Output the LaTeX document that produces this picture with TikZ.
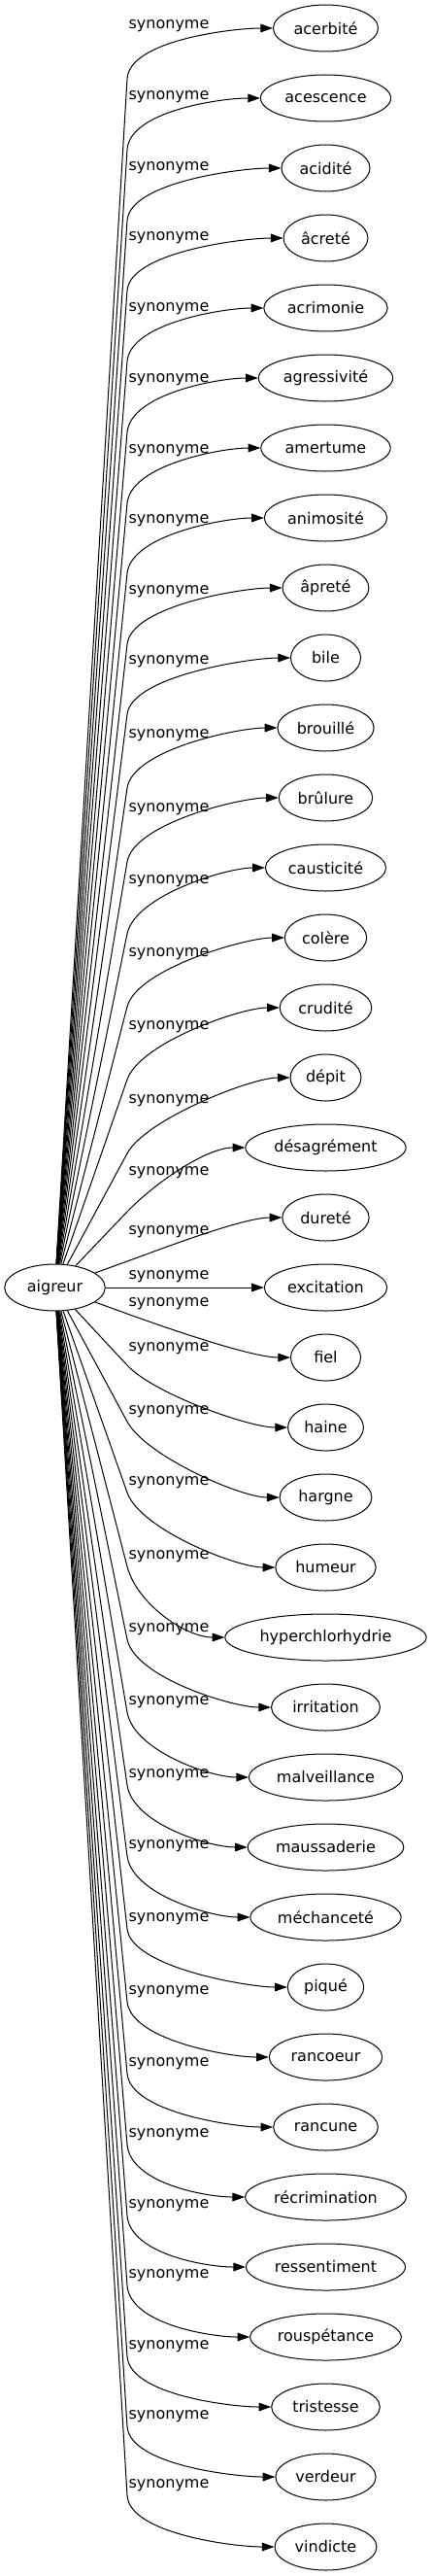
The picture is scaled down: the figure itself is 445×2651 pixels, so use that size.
\documentclass[tikz,border=0pt]{standalone}
\usepackage{fontspec}
\setmainfont{DejaVu Sans}
\usetikzlibrary{arrows.meta,calc,shapes.geometric}

\begin{document}
\begin{tikzpicture}[x=0.75pt, y=-0.75pt,
    word/.style={ellipse, draw, line width=0.75pt, inner xsep=4pt, minimum width=54pt, minimum height=36pt, font=\fontsize{12pt}{14pt}\selectfont},
    rel/.style={inner sep=0pt, font=\fontsize{12pt}{14pt}\selectfont},
    link/.style={line width=0.75pt, -{Triangle[length=9.5pt, width=6.5pt]}}]
    \useasboundingbox (0,0) rectangle (445,2651);

    \path (56.5, 1325) node[word, inner xsep=6pt] (aigreur) {aigreur};

    \path (335.5, 29)   node[word] (s1)  {acerbité};
    \path (335.5, 101)  node[word] (s2)  {acescence};
    \path (335.5, 173)  node[word] (s3)  {acidité};
    \path (335.5, 245)  node[word] (s4)  {âcreté};
    \path (335.5, 317)  node[word] (s5)  {acrimonie};
    \path (335.5, 389)  node[word] (s6)  {agressivité};
    \path (335.5, 461)  node[word] (s7)  {amertume};
    \path (335.5, 533)  node[word] (s8)  {animosité};
    \path (335.5, 605)  node[word] (s9)  {âpreté};
    \path (335.5, 677)  node[word] (s10) {bile};
    \path (335.5, 749)  node[word] (s11) {brouillé};
    \path (335.5, 821)  node[word] (s12) {brûlure};
    \path (335.5, 893)  node[word] (s13) {causticité};
    \path (335.5, 965)  node[word] (s14) {colère};
    \path (335.5, 1037) node[word] (s15) {crudité};
    \path (335.5, 1109) node[word] (s16) {dépit};
    \path (335.5, 1181) node[word] (s17) {désagrément};
    \path (335.5, 1253) node[word] (s18) {dureté};
    \path (335.5, 1325) node[word] (s19) {excitation};
    \path (335.5, 1397) node[word] (s20) {fiel};
    \path (335.5, 1469) node[word] (s21) {haine};
    \path (335.5, 1541) node[word] (s22) {hargne};
    \path (335.5, 1613) node[word] (s23) {humeur};
    \path (335.5, 1685) node[word] (s24) {hyperchlorhydrie};
    \path (335.5, 1757) node[word] (s25) {irritation};
    \path (335.5, 1829) node[word] (s26) {malveillance};
    \path (335.5, 1901) node[word] (s27) {maussaderie};
    \path (335.5, 1973) node[word] (s28) {méchanceté};
    \path (335.5, 2045) node[word] (s29) {piqué};
    \path (335.5, 2117) node[word] (s30) {rancoeur};
    \path (335.5, 2189) node[word] (s31) {rancune};
    \path (335.5, 2261) node[word] (s32) {récrimination};
    \path (335.5, 2333) node[word] (s33) {ressentiment};
    \path (335.5, 2405) node[word] (s34) {rouspétance};
    \path (335.5, 2477) node[word] (s35) {tristesse};
    \path (335.5, 2549) node[word] (s36) {verdeur};
    \path (335.5, 2621) node[word] (s37) {vindicte};

    \path (174, 27)   node[rel] (l1)  {synonyme};
    \path (174, 100)  node[rel] (l2)  {synonyme};
    \path (174, 173)  node[rel] (l3)  {synonyme};
    \path (174, 245)  node[rel] (l4)  {synonyme};
    \path (174, 318)  node[rel] (l5)  {synonyme};
    \path (174, 391)  node[rel] (l6)  {synonyme};
    \path (174, 464)  node[rel] (l7)  {synonyme};
    \path (174, 536)  node[rel] (l8)  {synonyme};
    \path (174, 609)  node[rel] (l9)  {synonyme};
    \path (174, 681)  node[rel] (l10) {synonyme};
    \path (174, 757)  node[rel] (l11) {synonyme};
    \path (174, 833)  node[rel] (l12) {synonyme};
    \path (174, 907)  node[rel] (l13) {synonyme};
    \path (174, 982)  node[rel] (l14) {synonyme};
    \path (174, 1057) node[rel] (l15) {synonyme};
    \path (174, 1133) node[rel] (l16) {synonyme};
    \path (174, 1207) node[rel] (l17) {synonyme};
    \path (174, 1268) node[rel] (l18) {synonyme};
    \path (174, 1314) node[rel] (l19) {synonyme};
    \path (174, 1342) node[rel] (l20) {synonyme};
    \path (174, 1388) node[rel] (l21) {synonyme};
    \path (174, 1453) node[rel] (l22) {synonyme};
    \path (174, 1526) node[rel] (l23) {synonyme};
    \path (174, 1602) node[rel] (l24) {synonyme};
    \path (174, 1677) node[rel] (l25) {synonyme};
    \path (174, 1752) node[rel] (l26) {synonyme};
    \path (174, 1827) node[rel] (l27) {synonyme};
    \path (174, 1900) node[rel] (l28) {synonyme};
    \path (174, 1975) node[rel] (l29) {synonyme};
    \path (174, 2050) node[rel] (l30) {synonyme};
    \path (174, 2124) node[rel] (l31) {synonyme};
    \path (174, 2197) node[rel] (l32) {synonyme};
    \path (174, 2270) node[rel] (l33) {synonyme};
    \path (174, 2342) node[rel] (l34) {synonyme};
    \path (174, 2415) node[rel] (l35) {synonyme};
    \path (174, 2487) node[rel] (l36) {synonyme};
    \path (174, 2558) node[rel] (l37) {synonyme};

    % bends, under the labels
    \coordinate (k1)  at (131, 81);
    \coordinate (k2)  at (131, 154);
    \coordinate (k3)  at (131, 227);
    \coordinate (k4)  at (131, 299);
    \coordinate (k5)  at (131, 372);
    \coordinate (k6)  at (131, 445);
    \coordinate (k7)  at (131, 518);
    \coordinate (k8)  at (131, 590);
    \coordinate (k9)  at (131, 663);
    \coordinate (k10) at (131, 735);
    \coordinate (k11) at (131, 811);
    \coordinate (k12) at (131, 887);
    \coordinate (k13) at (131, 961);
    \coordinate (k14) at (131, 1036);
    \coordinate (k15) at (131, 1111);
    \coordinate (k16) at (131, 1187);
    \coordinate (k17) at (131, 1247);
    \coordinate (k18) at (131, 1298);
    \coordinate (k20) at (131, 1352);
    \coordinate (k21) at (131, 1405);
    \coordinate (k22) at (131, 1463);
    \coordinate (k23) at (131, 1536);
    \coordinate (k24) at (131, 1612);
    \coordinate (k25) at (131, 1687);
    \coordinate (k26) at (131, 1762);
    \coordinate (k27) at (131, 1837);
    \coordinate (k28) at (131, 1910);
    \coordinate (k29) at (131, 1985);
    \coordinate (k30) at (131, 2060);
    \coordinate (k31) at (131, 2134);
    \coordinate (k32) at (131, 2207);
    \coordinate (k33) at (131, 2280);
    \coordinate (k34) at (131, 2352);
    \coordinate (k35) at (131, 2425);
    \coordinate (k36) at (131, 2497);
    \coordinate (k37) at (131, 2568);

    \draw[link] (aigreur) -- (k1)  .. controls ($(k1)!-30pt!(aigreur)$)  and ($(s1.west)+(-40,0)$)  .. (s1);
    \draw[link] (aigreur) -- (k2)  .. controls ($(k2)!-30pt!(aigreur)$)  and ($(s2.west)+(-40,0)$)  .. (s2);
    \draw[link] (aigreur) -- (k3)  .. controls ($(k3)!-30pt!(aigreur)$)  and ($(s3.west)+(-40,0)$)  .. (s3);
    \draw[link] (aigreur) -- (k4)  .. controls ($(k4)!-30pt!(aigreur)$)  and ($(s4.west)+(-40,0)$)  .. (s4);
    \draw[link] (aigreur) -- (k5)  .. controls ($(k5)!-30pt!(aigreur)$)  and ($(s5.west)+(-40,0)$)  .. (s5);
    \draw[link] (aigreur) -- (k6)  .. controls ($(k6)!-30pt!(aigreur)$)  and ($(s6.west)+(-40,0)$)  .. (s6);
    \draw[link] (aigreur) -- (k7)  .. controls ($(k7)!-30pt!(aigreur)$)  and ($(s7.west)+(-40,0)$)  .. (s7);
    \draw[link] (aigreur) -- (k8)  .. controls ($(k8)!-30pt!(aigreur)$)  and ($(s8.west)+(-40,0)$)  .. (s8);
    \draw[link] (aigreur) -- (k9)  .. controls ($(k9)!-30pt!(aigreur)$)  and ($(s9.west)+(-40,0)$)  .. (s9);
    \draw[link] (aigreur) -- (k10) .. controls ($(k10)!-30pt!(aigreur)$) and ($(s10.west)+(-40,0)$) .. (s10);
    \draw[link] (aigreur) -- (k11) .. controls ($(k11)!-30pt!(aigreur)$) and ($(s11.west)+(-40,0)$) .. (s11);
    \draw[link] (aigreur) -- (k12) .. controls ($(k12)!-30pt!(aigreur)$) and ($(s12.west)+(-40,0)$) .. (s12);
    \draw[link] (aigreur) -- (k13) .. controls ($(k13)!-30pt!(aigreur)$) and ($(s13.west)+(-40,0)$) .. (s13);
    \draw[link] (aigreur) -- (k14) .. controls ($(k14)!-30pt!(aigreur)$) and ($(s14.west)+(-40,0)$) .. (s14);
    \draw[link] (aigreur) -- (k15) .. controls ($(k15)!-30pt!(aigreur)$) and ($(s15.west)+(-40,0)$) .. (s15);
    \draw[link] (aigreur) -- (k16) .. controls ($(k16)!-30pt!(aigreur)$) and ($(s16.west)+(-40,0)$) .. (s16);
    \draw[link] (aigreur) -- (k17) .. controls ($(k17)!-30pt!(aigreur)$) and ($(s17.west)+(-40,0)$) .. (s17);
    \draw[link] (aigreur) -- (k18) .. controls ($(k18)!-30pt!(aigreur)$) and ($(s18.west)+(-40,0)$) .. (s18);
    \draw[link] (aigreur) -- (s19);
    \draw[link] (aigreur) -- (k20) .. controls ($(k20)!-30pt!(aigreur)$) and ($(s20.west)+(-40,0)$) .. (s20);
    \draw[link] (aigreur) -- (k21) .. controls ($(k21)!-30pt!(aigreur)$) and ($(s21.west)+(-40,0)$) .. (s21);
    \draw[link] (aigreur) -- (k22) .. controls ($(k22)!-30pt!(aigreur)$) and ($(s22.west)+(-40,0)$) .. (s22);
    \draw[link] (aigreur) -- (k23) .. controls ($(k23)!-30pt!(aigreur)$) and ($(s23.west)+(-40,0)$) .. (s23);
    \draw[link] (aigreur) -- (k24) .. controls ($(k24)!-30pt!(aigreur)$) and ($(s24.west)+(-40,0)$) .. (s24);
    \draw[link] (aigreur) -- (k25) .. controls ($(k25)!-30pt!(aigreur)$) and ($(s25.west)+(-40,0)$) .. (s25);
    \draw[link] (aigreur) -- (k26) .. controls ($(k26)!-30pt!(aigreur)$) and ($(s26.west)+(-40,0)$) .. (s26);
    \draw[link] (aigreur) -- (k27) .. controls ($(k27)!-30pt!(aigreur)$) and ($(s27.west)+(-40,0)$) .. (s27);
    \draw[link] (aigreur) -- (k28) .. controls ($(k28)!-30pt!(aigreur)$) and ($(s28.west)+(-40,0)$) .. (s28);
    \draw[link] (aigreur) -- (k29) .. controls ($(k29)!-30pt!(aigreur)$) and ($(s29.west)+(-40,0)$) .. (s29);
    \draw[link] (aigreur) -- (k30) .. controls ($(k30)!-30pt!(aigreur)$) and ($(s30.west)+(-40,0)$) .. (s30);
    \draw[link] (aigreur) -- (k31) .. controls ($(k31)!-30pt!(aigreur)$) and ($(s31.west)+(-40,0)$) .. (s31);
    \draw[link] (aigreur) -- (k32) .. controls ($(k32)!-30pt!(aigreur)$) and ($(s32.west)+(-40,0)$) .. (s32);
    \draw[link] (aigreur) -- (k33) .. controls ($(k33)!-30pt!(aigreur)$) and ($(s33.west)+(-40,0)$) .. (s33);
    \draw[link] (aigreur) -- (k34) .. controls ($(k34)!-30pt!(aigreur)$) and ($(s34.west)+(-40,0)$) .. (s34);
    \draw[link] (aigreur) -- (k35) .. controls ($(k35)!-30pt!(aigreur)$) and ($(s35.west)+(-40,0)$) .. (s35);
    \draw[link] (aigreur) -- (k36) .. controls ($(k36)!-30pt!(aigreur)$) and ($(s36.west)+(-40,0)$) .. (s36);
    \draw[link] (aigreur) -- (k37) .. controls ($(k37)!-30pt!(aigreur)$) and ($(s37.west)+(-40,0)$) .. (s37);
\end{tikzpicture}
\end{document}
